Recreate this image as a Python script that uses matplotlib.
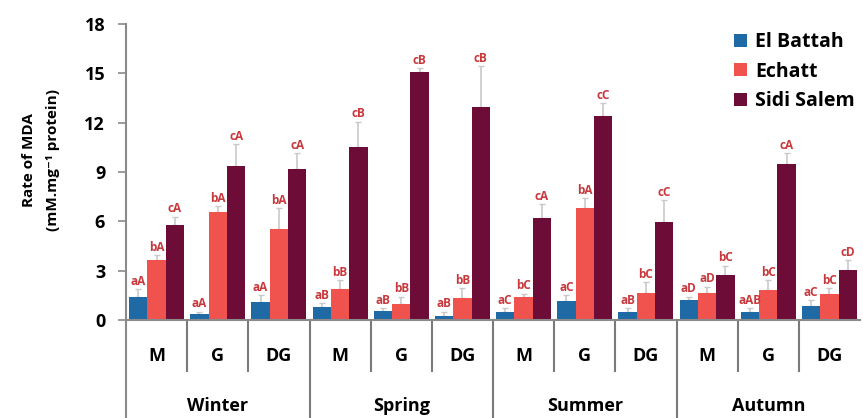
import numpy as np
import matplotlib
matplotlib.use("Agg")
import matplotlib.pyplot as plt
from matplotlib.lines import Line2D

plt.rcParams['font.family'] = ['Open Sans', 'DejaVu Sans']
plt.rcParams['font.weight'] = 'bold'

seasons = ["Winter", "Spring", "Summer", "Autumn"]
sites = ["M", "G", "DG"]
series_names = ["El Battah", "Echatt", "Sidi Salem"]

el_battah = [1.42, 0.35, 1.12, 0.81, 0.55, 0.26, 0.51, 1.18, 0.47, 1.22, 0.50, 0.85]
echatt = [3.65, 6.59, 5.52, 1.88, 0.97, 1.32, 1.42, 6.83, 1.62, 1.62, 1.82, 1.56]
sidi_salem = [5.78, 9.39, 9.18, 10.50, 15.10, 12.94, 6.22, 12.40, 5.98, 2.72, 9.49, 3.04]

el_battah_err = [0.45, 0.15, 0.40, 0.22, 0.18, 0.24, 0.22, 0.32, 0.26, 0.20, 0.23, 0.37]
echatt_err = [0.30, 0.34, 1.28, 0.55, 0.45, 0.61, 0.18, 0.57, 0.67, 0.40, 0.61, 0.37]
sidi_salem_err = [0.50, 1.30, 0.95, 1.55, 0.20, 2.50, 0.84, 0.78, 1.30, 0.58, 0.65, 0.60]

el_battah_lbl = ["aA", "aA", "aA", "aB", "aB", "aB", "aC", "aC", "aB", "aD", "aAB", "aC"]
echatt_lbl = ["bA", "bA", "bA", "bB", "bB", "bB", "bC", "bA", "bC", "aD", "bC", "bC"]
sidi_salem_lbl = ["cA", "cA", "cA", "cB", "cB", "cB", "cA", "cC", "cC", "bC", "cA", "cD"]

colors = ["#1f6aa5", "#f0524e", "#6c0c37"]
label_color = "#c8383c"
err_color = "#c9c9c9"

W, H = 863, 418
fig = plt.figure(figsize=(W / 100, H / 100), dpi=100)
ax = fig.add_axes([126 / W, 1 - 320 / H, (860 - 126) / W, (320 - 24) / H])

n = len(el_battah)
x = np.arange(n)
bw = 0.3
series = [el_battah, echatt, sidi_salem]
errs = [el_battah_err, echatt_err, sidi_salem_err]
lbls = [el_battah_lbl, echatt_lbl, sidi_salem_lbl]

for k, (vals, err, lab, col, name) in enumerate(zip(series, errs, lbls, colors, series_names)):
    xs = x + (k - 1) * bw
    ax.bar(xs, vals, width=bw, color=col, label=name, zorder=2)
    ax.errorbar(xs, vals, yerr=[np.zeros(n), err], fmt='none', ecolor=err_color,
                elinewidth=1.2, capsize=2, capthick=1.0, zorder=1)
    for xi, v, e, t in zip(xs, vals, err, lab):
        ax.annotate(t, (xi, v + e), xytext=(0, 1), textcoords='offset points',
                    ha='center', va='bottom', fontsize=8.5, fontweight='bold',
                    color=label_color, zorder=3)

ax.set_xlim(-0.5, n - 0.5)
ax.set_ylim(0, 18)
ax.set_yticks(np.arange(0, 19, 3))
ax.tick_params(axis='y', direction='out', length=6, width=1.2, color='#8a8a8a',
               pad=9, labelsize=13)
for t in ax.get_yticklabels():
    t.set_fontweight('bold')
ax.set_xticks([])
for s in ['top', 'right']:
    ax.spines[s].set_visible(False)
for s in ['left', 'bottom']:
    ax.spines[s].set_color('#8a8a8a')
    ax.spines[s].set_linewidth(1.5)

# Two-level category table below the axis
axh = 320 - 24
tr = ax.get_xaxis_transform()
for i in range(1, n):
    if i % 3 == 0:
        y0 = -98 / axh
    else:
        y0 = -51 / axh
    ax.add_line(Line2D([i - 0.5, i - 0.5], [0, y0], transform=tr, color='#7a7a7a',
                       lw=1.5, clip_on=False))
ax.add_line(Line2D([-0.5, -0.5], [0, -98 / axh], transform=tr, color='#8a8a8a',
                   lw=1.5, clip_on=False))
for i in range(n):
    ax.text(i, -36 / axh, sites[i % 3], transform=tr, ha='center', va='center',
            fontsize=13, fontweight='bold')
for j, s in enumerate(seasons):
    ax.text(3 * j + 1, -86 / axh, s, transform=tr, ha='center', va='center',
            fontsize=13, fontweight='bold')

fig.text(41 / W, 1 - 160 / H, "Rate of MDA\n(mM.mg\u207b\u00b9 protein)", rotation=90,
         ha='center', va='center', fontsize=11, fontweight='bold', linespacing=1.9,
         multialignment='center')

ax.legend(loc='upper left', bbox_to_anchor=(734 / W, 1 - 32 / H),
          bbox_transform=fig.transFigure, frameon=False,
          handlelength=0.65, handleheight=0.65, handletextpad=0.45,
          labelspacing=0.5, borderaxespad=0, borderpad=0,
          prop={'weight': 'bold', 'size': 14})

fig.savefig("out.png", dpi=100)
